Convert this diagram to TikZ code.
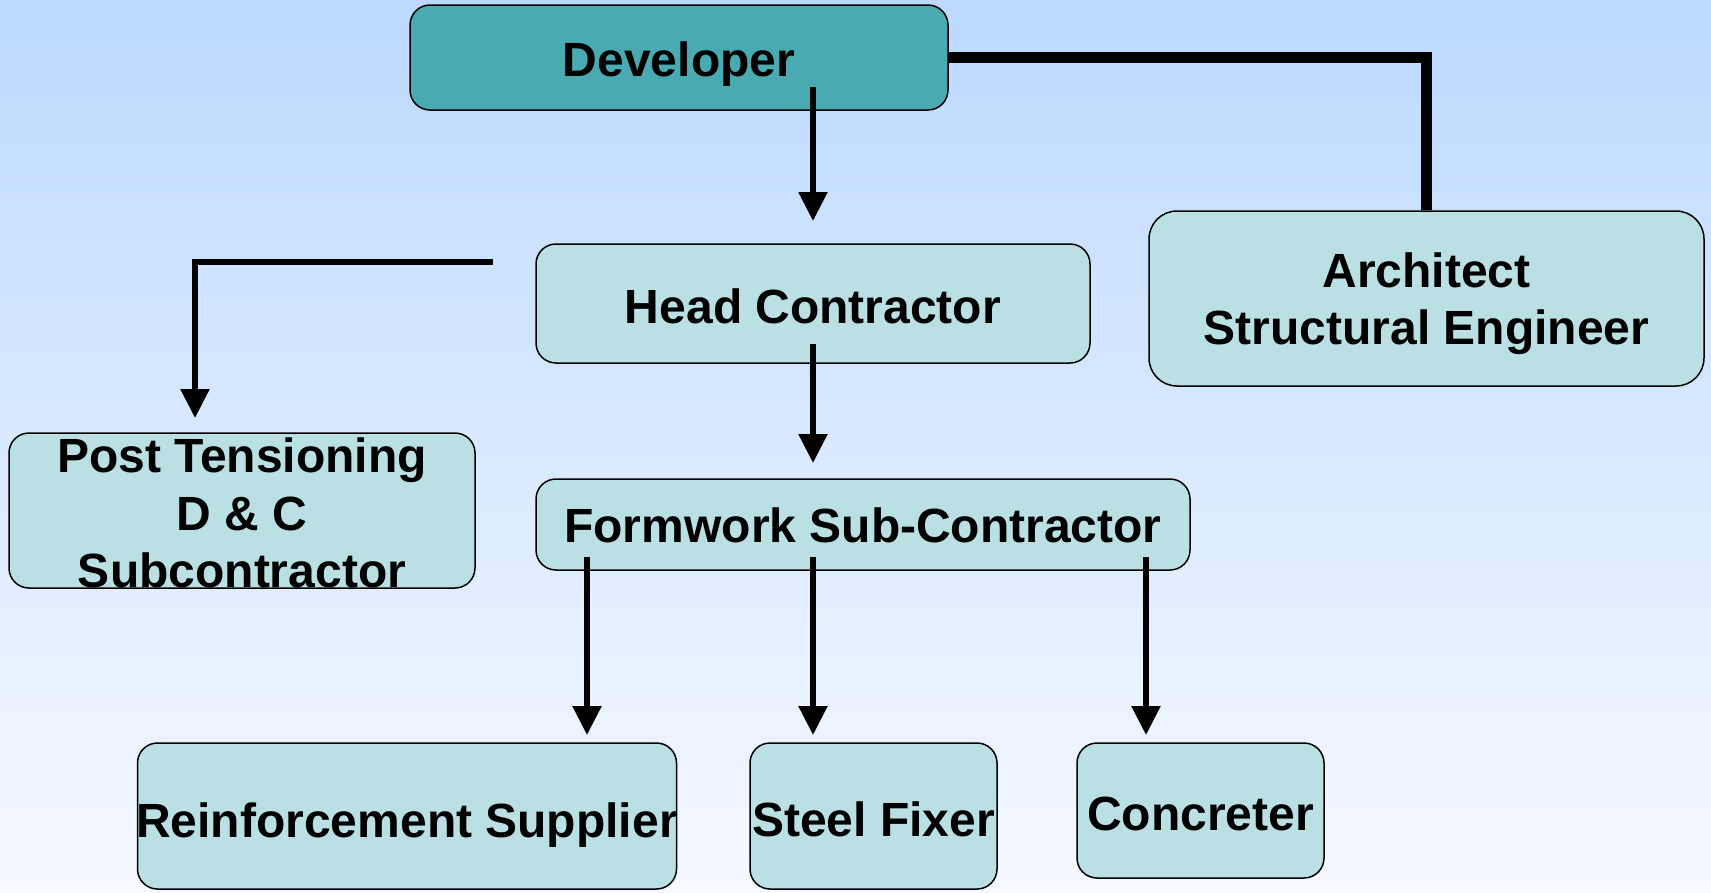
\documentclass[tikz,border=0pt]{standalone}
\usepackage{fontspec}
\setmainfont{Liberation Sans}
\usetikzlibrary{arrows.meta}
\definecolor{bgtop}{RGB}{188,217,255}
\definecolor{bgbot}{RGB}{246,249,255}
\definecolor{teal}{RGB}{74,170,178}
\definecolor{pale}{RGB}{186,224,227}
\tikzset{
  box/.style={draw=black, line width=1.5pt, fill=pale, rounded corners=20pt, inner sep=0pt, anchor=center},
  lbl/.style={font=\bfseries\fontsize{48}{57.5}\selectfont, align=center, inner sep=0pt, anchor=center},
  arr/.style={line width=5.5pt, -{Triangle[width=28pt,length=29pt]}},
  plain/.style={line width=5.5pt},
  heavy/.style={line width=11pt}
}
\begin{document}
\begin{tikzpicture}[x=1pt,y=-1pt]
\shade[top color=bgtop,bottom color=bgbot] (0,0) rectangle (1711,892);
\useasboundingbox (0,0) rectangle (1711,892);
% boxes
\node[box, fill=teal, minimum width=538pt, minimum height=105pt] (dev) at (679,57.5) {};
\node[box, minimum width=554pt, minimum height=119pt] (hc) at (813,303.5) {};
\node[box, rounded corners=28pt, minimum width=555pt, minimum height=175pt] (arch) at (1426.5,298.5) {};
\node[box, minimum width=466pt, minimum height=155pt] (pt) at (242,510.5) {};
\node[box, minimum width=654pt, minimum height=91pt] (fw) at (863,524.5) {};
\node[box, minimum width=539pt, minimum height=146pt] (rs) at (407,816) {};
\node[box, minimum width=247pt, minimum height=146pt] (sf) at (873.5,816) {};
\node[box, minimum width=247pt, minimum height=135pt] (con) at (1200.5,810.5) {};
% labels
\node[lbl] (devt) at ([yshift=-7pt]dev.center) {Developer};
\node[lbl] (hct) at ([yshift=-2.5pt]hc.center) {Head Contractor};
\node[lbl] (archt) at ([yshift=-5pt]arch.center) {Architect\\Structural Engineer};
\node[lbl] (ptt) at ([yshift=-2.5pt]pt.center) {Post Tensioning\\D \& C\\Subcontractor};
\node[lbl] (fwt) at ([yshift=-1pt]fw.center) {Formwork Sub-Contractor};
\node[lbl] (rst) at ([yshift=-9pt]rs.center) {Reinforcement Supplier};
\node[lbl] (sft) at ([yshift=-3.5pt]sf.center) {Steel Fixer};
\node[lbl] (cont) at ([yshift=-3.5pt]con.center) {Concreter};
% connector end points
\coordinate (d1) at (813,87);
\coordinate (h1) at (813,221);
\coordinate (h2) at (813,344);
\coordinate (f1) at (813,463);
\coordinate (ps) at (493,262);
\coordinate (pe) at (195,418);
\coordinate (fa) at (587,557);
\coordinate (fb) at (813,557);
\coordinate (fc) at (1146,557);
\coordinate (ra) at (587,735);
\coordinate (sa) at (813,735);
\coordinate (ca) at (1146,735);
% connectors
\draw[heavy] (dev.east) -| (arch.north);
\draw[arr] (d1) -- (h1);
\draw[arr] (h2) -- (f1);
\draw[arr] (ps) -| (pe);
\draw[arr] (fa) -- (ra);
\draw[arr] (fb) -- (sa);
\draw[arr] (fc) -- (ca);
\end{tikzpicture}
\end{document}
